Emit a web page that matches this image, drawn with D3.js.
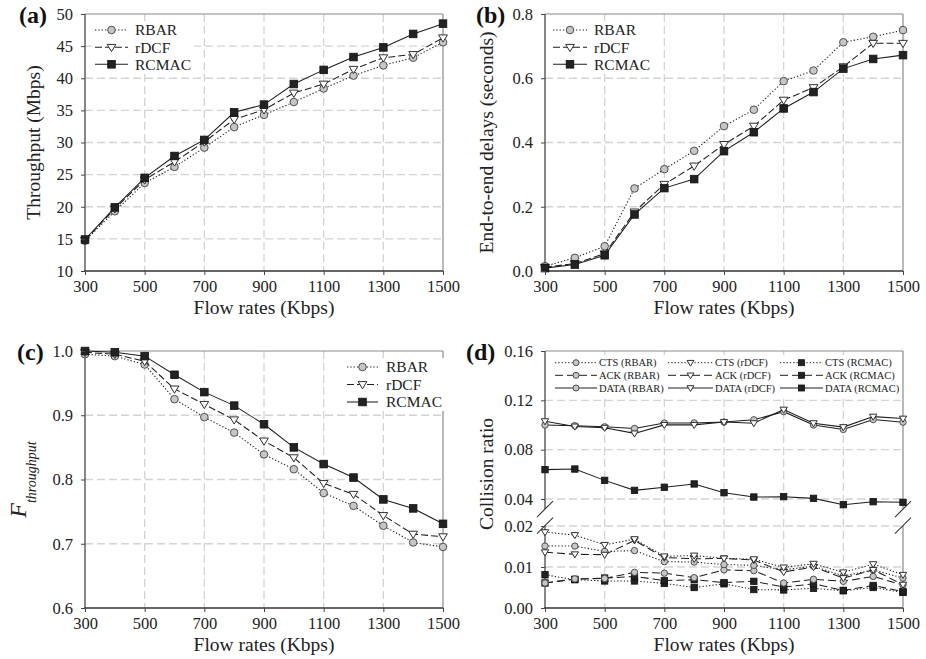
<!DOCTYPE html>
<html>
<head>
<meta charset="utf-8">
<script src="https://cdn.jsdelivr.net/npm/d3@7"></script>
<style>
  body { margin: 0; background: #fff; }
  svg, svg text { font-family: "Liberation Serif", "Times New Roman", "DejaVu Serif", serif !important; }
</style>
</head>
<body>
<svg id="fig" width="926" height="659"></svg>
<script>
// ---- shared x values -------------------------------------------------------
const flowRates = [300, 400, 500, 600, 700, 800, 900, 1000, 1100, 1200, 1300, 1400, 1500];
const xTickValues = [300, 500, 700, 900, 1100, 1300, 1500];

// ---- (a) throughput, Mbps ----------------------------------------------------
const throughputRBAR  = [14.7, 19.3, 23.7, 26.2, 29.2, 32.4, 34.3, 36.3, 38.4, 40.4, 42.0, 43.2, 45.6];
const throughputRDCF  = [14.8, 19.7, 24.2, 27.0, 30.1, 33.6, 35.1, 37.7, 39.1, 41.4, 43.2, 43.7, 46.3];
const throughputRCMAC = [14.9, 19.9, 24.5, 27.9, 30.4, 34.7, 35.9, 39.1, 41.3, 43.3, 44.8, 46.9, 48.5];
const throughputTicks = [10, 15, 20, 25, 30, 35, 40, 45, 50];

// ---- (b) end-to-end delay, seconds -------------------------------------------
const delayRBAR  = [0.015, 0.041, 0.077, 0.257, 0.317, 0.374, 0.451, 0.502, 0.591, 0.624, 0.712, 0.729, 0.750];
const delayRDCF  = [0.012, 0.023, 0.054, 0.184, 0.270, 0.327, 0.394, 0.451, 0.532, 0.571, 0.636, 0.709, 0.709];
const delayRCMAC = [0.009, 0.020, 0.049, 0.176, 0.258, 0.286, 0.373, 0.432, 0.506, 0.557, 0.630, 0.660, 0.672];
const delayTicks = [0, 0.2, 0.4, 0.6, 0.8];

// ---- (c) throughput fairness ---------------------------------------------------
const fairRBAR  = [0.995, 0.992, 0.979, 0.925, 0.897, 0.873, 0.839, 0.816, 0.779, 0.759, 0.728, 0.702, 0.695];
const fairRDCF  = [0.998, 0.995, 0.984, 0.941, 0.917, 0.893, 0.860, 0.834, 0.794, 0.777, 0.744, 0.715, 0.711];
const fairRCMAC = [1.000, 0.998, 0.992, 0.963, 0.936, 0.915, 0.886, 0.850, 0.824, 0.803, 0.769, 0.755, 0.731];
const fairTicks = [0.6, 0.7, 0.8, 0.9, 1.0];

// ---- (d) collision ratio per frame type ----------------------------------------
const ctsRBAR   = [0.0151, 0.0151, 0.0138, 0.0140, 0.0113, 0.0112, 0.0106, 0.0104, 0.0093, 0.0102, 0.0078, 0.0093, 0.0073];
const ackRBAR   = [0.0061, 0.0071, 0.0072, 0.0087, 0.0085, 0.0074, 0.0093, 0.0091, 0.0061, 0.0070, 0.0065, 0.0077, 0.0056];
const dataRBAR  = [0.1000, 0.0994, 0.0985, 0.0972, 0.1016, 0.1017, 0.1024, 0.1042, 0.1108, 0.1000, 0.0964, 0.1044, 0.1023];
const ctsRDCF   = [0.0185, 0.0178, 0.0154, 0.0168, 0.0126, 0.0128, 0.0121, 0.0119, 0.0099, 0.0108, 0.0087, 0.0107, 0.0081];
const ackRDCF   = [0.0136, 0.0131, 0.0130, 0.0165, 0.0123, 0.0120, 0.0121, 0.0117, 0.0088, 0.0100, 0.0073, 0.0093, 0.0057];
const dataRDCF  = [0.1031, 0.0988, 0.0978, 0.0932, 0.1001, 0.1001, 0.1024, 0.1015, 0.1125, 0.1015, 0.0983, 0.1068, 0.1052];
const ctsRCMAC  = [0.0081, 0.0069, 0.0066, 0.0066, 0.0060, 0.0050, 0.0059, 0.0045, 0.0044, 0.0048, 0.0042, 0.0050, 0.0038];
const ackRCMAC  = [0.0061, 0.0070, 0.0073, 0.0077, 0.0067, 0.0069, 0.0062, 0.0065, 0.0051, 0.0059, 0.0043, 0.0055, 0.0040];
const dataRCMAC = [0.0638, 0.0643, 0.0551, 0.0470, 0.0495, 0.0522, 0.0451, 0.0416, 0.0419, 0.0405, 0.0354, 0.0378, 0.0373];
const collisionUpperTicks = [0.04, 0.08, 0.12, 0.16];
const collisionLowerTicks = [0, 0.01, 0.02];

// ---- styling ------------------------------------------------------------------
const SERIF = '"Liberation Serif", "Times New Roman", "DejaVu Serif", serif';
const INK = "#1e1e1e";
const GRID = "#d4d4d4";
const markerStyle = {
  RBAR:  { shape: "circle",   fill: "#c6c6c6", stroke: "#505050" },
  rDCF:  { shape: "triangle", fill: "#ffffff", stroke: "#303030" },
  RCMAC: { shape: "square",   fill: "#222222", stroke: "#111111" }
};
const dashStyle = { dotted: "1.3,2", dashed: "7,3", longdash: "8,4", solid: null };

const svg = d3.select("#fig").style("font-family", SERIF);

function drawMarker(g, proto, cx, cy, size) {
  const st = markerStyle[proto];
  if (st.shape === "circle") {
    g.append("circle").attr("cx", cx).attr("cy", cy).attr("r", size / 2)
      .attr("fill", st.fill).attr("stroke", st.stroke).attr("stroke-width", 1);
  } else if (st.shape === "square") {
    g.append("rect").attr("x", cx - size / 2).attr("y", cy - size / 2)
      .attr("width", size).attr("height", size)
      .attr("fill", st.fill).attr("stroke", st.stroke).attr("stroke-width", 0.8);
  } else {
    const w = size * 1.15, h = size * 0.95;
    g.append("path")
      .attr("d", `M${cx - w / 2},${cy - h * 0.4}L${cx + w / 2},${cy - h * 0.4}L${cx},${cy + h * 0.6}Z`)
      .attr("fill", st.fill).attr("stroke", st.stroke).attr("stroke-width", 1);
  }
}

function drawSeries(g, x, y, values, proto, dash, markerSize) {
  const pts = flowRates.map((f, i) => [x(f), y(values[i])]);
  g.append("path")
    .attr("d", d3.line()(pts))
    .attr("fill", "none").attr("stroke", INK).attr("stroke-width", 1.05)
    .attr("stroke-dasharray", dashStyle[dash]);
  pts.forEach(p => drawMarker(g, proto, p[0], p[1], markerSize));
}

function styleAxis(ax) {
  ax.attr("font-family", null).style("font-family", SERIF);
  ax.select(".domain").remove();
  ax.selectAll(".tick line").attr("stroke", "#444");
  ax.selectAll(".tick text").attr("font-size", 16.5).attr("fill", "#222").style("font-family", SERIF);
}

function xAxis(g, x, box) {
  const ax = g.append("g").attr("transform", `translate(0,${box.bottom})`)
    .call(d3.axisBottom(x).tickValues(xTickValues).tickSize(4).tickSizeOuter(0)
      .tickPadding(5).tickFormat(d3.format("d")));
  styleAxis(ax);
  g.append("text").attr("x", (box.left + box.right) / 2).attr("y", box.bottom + 43)
    .attr("text-anchor", "middle").attr("font-size", 19.5).attr("fill", "#222")
    .style("font-family", SERIF).text("Flow rates (Kbps)");
}

function yAxis(g, y, ticks, fmt, box) {
  const ax = g.append("g").attr("transform", `translate(${box.left},0)`)
    .call(d3.axisLeft(y).tickValues(ticks).tickSize(4).tickSizeOuter(0)
      .tickPadding(8).tickFormat(d3.format(fmt)));
  styleAxis(ax);
}

function yTitle(g, text, tx, ty) {
  g.append("text").attr("transform", `translate(${tx},${ty}) rotate(-90)`)
    .attr("text-anchor", "middle").attr("font-size", 19.5).attr("fill", "#222")
    .style("font-family", SERIF).text(text);
}

function grid(g, x, yVals, box, yScale) {
  const gg = g.append("g").attr("stroke", GRID).attr("stroke-width", 1.3)
    .attr("stroke-dasharray", "8,4");
  xTickValues.slice(1, -1).forEach(v => {
    gg.append("line").attr("x1", x(v)).attr("x2", x(v)).attr("y1", box.top).attr("y2", box.bottom);
  });
  yVals.forEach(v => {
    gg.append("line").attr("x1", box.left).attr("x2", box.right)
      .attr("y1", yScale(v)).attr("y2", yScale(v));
  });
}

function frame(g, box) {
  g.append("line").attr("x1", box.left).attr("x2", box.right).attr("y1", box.top).attr("y2", box.top)
    .attr("stroke", "#8a8a8a").attr("stroke-width", 1.2);
  g.append("line").attr("x1", box.right).attr("x2", box.right).attr("y1", box.top).attr("y2", box.bottom)
    .attr("stroke", "#8a8a8a").attr("stroke-width", 1.2);
  g.append("line").attr("x1", box.left).attr("x2", box.left).attr("y1", box.top).attr("y2", box.bottom)
    .attr("stroke", "#555").attr("stroke-width", 1.4);
  g.append("line").attr("x1", box.left - 0.7).attr("x2", box.right).attr("y1", box.bottom).attr("y2", box.bottom)
    .attr("stroke", "#333").attr("stroke-width", 1.4);
}

function panelLabel(g, text, px, py) {
  g.append("text").attr("x", px).attr("y", py).attr("font-size", 24).attr("font-weight", "bold")
    .attr("fill", "#111").style("font-family", SERIF).text(text);
}

function legend3(g, entries, lineX0, lineX1, textX, rowYs, fontSize, markerSize) {
  g.append("rect").attr("x", lineX0 - 3).attr("y", rowYs[0] - 9)
    .attr("width", textX - lineX0 + 62).attr("height", rowYs[rowYs.length - 1] - rowYs[0] + 18)
    .attr("fill", "#fff");
  entries.forEach((e, i) => {
    const yy = rowYs[i];
    g.append("line").attr("x1", lineX0).attr("x2", lineX1).attr("y1", yy).attr("y2", yy)
      .attr("stroke", INK).attr("stroke-width", 1.05).attr("stroke-dasharray", dashStyle[e.dash]);
    drawMarker(g, e.proto, (lineX0 + lineX1) / 2, yy, markerSize);
    g.append("text").attr("x", textX).attr("y", yy).attr("dy", "0.35em")
      .attr("font-size", fontSize).attr("fill", "#222").style("font-family", SERIF).text(e.label);
  });
}

const protoEntries = [
  { label: "RBAR", proto: "RBAR", dash: "dotted" },
  { label: "rDCF", proto: "rDCF", dash: "dashed" },
  { label: "RCMAC", proto: "RCMAC", dash: "solid" }
];

// ======================= (a) throughput =======================
{
  const box = { left: 85, top: 14, right: 443, bottom: 271 };
  const g = svg.append("g");
  const x = d3.scaleLinear().domain([300, 1500]).range([box.left, box.right]);
  const y = d3.scaleLinear().domain([10, 50]).range([box.bottom, box.top]);
  grid(g, x, throughputTicks.slice(1, -1), box, y);
  frame(g, box);
  drawSeries(g, x, y, throughputRBAR, "RBAR", "dotted", 7.6);
  drawSeries(g, x, y, throughputRDCF, "rDCF", "dashed", 7.6);
  drawSeries(g, x, y, throughputRCMAC, "RCMAC", "solid", 7.6);
  legend3(g, protoEntries, 95, 128, 135, [30, 47.3, 64.3], 15.5, 7.6);
  xAxis(g, x, box);
  yAxis(g, y, throughputTicks, "d", box);
  yTitle(g, "Throughput (Mbps)", 39.5, (box.top + box.bottom) / 2);
  panelLabel(g, "(a)", 19, 23);
}

// ======================= (b) delay =======================
{
  const box = { left: 545, top: 14, right: 903, bottom: 271 };
  const g = svg.append("g");
  const x = d3.scaleLinear().domain([300, 1500]).range([box.left, box.right]);
  const y = d3.scaleLinear().domain([0, 0.8]).range([box.bottom, box.top]);
  grid(g, x, delayTicks.slice(1, -1), box, y);
  frame(g, box);
  drawSeries(g, x, y, delayRBAR, "RBAR", "dotted", 7.6);
  drawSeries(g, x, y, delayRDCF, "rDCF", "dashed", 7.6);
  drawSeries(g, x, y, delayRCMAC, "RCMAC", "solid", 7.6);
  legend3(g, protoEntries, 553, 587, 594, [30, 47.3, 64.3], 15.5, 7.6);
  xAxis(g, x, box);
  yAxis(g, y, delayTicks, ".1f", box);
  yTitle(g, "End-to-end delays (seconds)", 493, (box.top + box.bottom) / 2);
  panelLabel(g, "(b)", 476, 23);
}

// ======================= (c) fairness =======================
{
  const box = { left: 85, top: 351, right: 443, bottom: 608 };
  const g = svg.append("g");
  const x = d3.scaleLinear().domain([300, 1500]).range([box.left, box.right]);
  const y = d3.scaleLinear().domain([0.6, 1.0]).range([box.bottom, box.top]);
  grid(g, x, fairTicks.slice(1, -1), box, y);
  frame(g, box);
  drawSeries(g, x, y, fairRBAR, "RBAR", "dotted", 7.6);
  drawSeries(g, x, y, fairRDCF, "rDCF", "dashed", 7.6);
  drawSeries(g, x, y, fairRCMAC, "RCMAC", "solid", 7.6);
  legend3(g, protoEntries, 347, 378, 386, [367, 384.5, 402], 15.5, 7.6);
  xAxis(g, x, box);
  yAxis(g, y, fairTicks, ".1f", box);
  const t = g.append("text")
    .attr("transform", `translate(26,${(box.top + box.bottom) / 2}) rotate(-90)`)
    .attr("text-anchor", "middle").attr("fill", "#222").attr("font-style", "italic")
    .style("font-family", SERIF);
  t.append("tspan").attr("font-size", 24).text("F");
  t.append("tspan").attr("font-size", 14).attr("dy", 10).text("throughput");
  panelLabel(g, "(c)", 17, 360);
}

// ======================= (d) collision ratio (broken axis) =======================
{
  const box = { left: 545, top: 351, right: 903, bottom: 608 };
  const g = svg.append("g");
  const x = d3.scaleLinear().domain([300, 1500]).range([box.left, box.right]);
  const yUp = d3.scaleLinear().domain([0.04, 0.16]).range([499, box.top]);
  const yLow = d3.scaleLinear().domain([0, 0.02]).range([box.bottom, 526]);
  const yAny = v => (v >= 0.03 ? yUp(v) : yLow(v));
  const breakTop = yUp(0.0318);
  const breakBottom = yLow(0.0201);

  // grid
  const gg = g.append("g").attr("stroke", GRID).attr("stroke-width", 1.3).attr("stroke-dasharray", "8,4");
  xTickValues.slice(1, -1).forEach(v => {
    gg.append("line").attr("x1", x(v)).attr("x2", x(v)).attr("y1", box.top).attr("y2", box.bottom);
  });
  collisionUpperTicks.slice(0, -1).concat(collisionLowerTicks.slice(1)).forEach(v => {
    gg.append("line").attr("x1", box.left).attr("x2", box.right).attr("y1", yAny(v)).attr("y2", yAny(v));
  });

  // frame with broken left/right sides
  g.append("line").attr("x1", box.left).attr("x2", box.right).attr("y1", box.top).attr("y2", box.top)
    .attr("stroke", "#8a8a8a").attr("stroke-width", 1.2);
  [[box.top, breakTop], [breakBottom, box.bottom]].forEach(([a, b]) => {
    g.append("line").attr("x1", box.right).attr("x2", box.right).attr("y1", a).attr("y2", b)
      .attr("stroke", "#8a8a8a").attr("stroke-width", 1.2);
    g.append("line").attr("x1", box.left).attr("x2", box.left).attr("y1", a).attr("y2", b)
      .attr("stroke", "#555").attr("stroke-width", 1.4);
  });
  g.append("line").attr("x1", box.left - 0.7).attr("x2", box.right).attr("y1", box.bottom).attr("y2", box.bottom)
    .attr("stroke", "#333").attr("stroke-width", 1.4);
  // break marks
  [box.left, box.right].forEach(bx => {
    [breakTop, breakBottom].forEach(by => {
      g.append("line").attr("x1", bx - 8).attr("y1", by + 8).attr("x2", bx + 8).attr("y2", by - 8)
        .attr("stroke", "#333").attr("stroke-width", 1.1);
    });
  });

  // series: CTS and ACK on the lower scale, DATA on the upper scale
  const ms = 6.4;
  drawSeries(g, x, yLow, ctsRCMAC, "RCMAC", "dotted", ms);
  drawSeries(g, x, yLow, ackRCMAC, "RCMAC", "longdash", ms);
  drawSeries(g, x, yLow, ackRBAR, "RBAR", "longdash", ms);
  drawSeries(g, x, yLow, ctsRBAR, "RBAR", "dotted", ms);
  drawSeries(g, x, yLow, ackRDCF, "rDCF", "longdash", ms);
  drawSeries(g, x, yLow, ctsRDCF, "rDCF", "dotted", ms);
  drawSeries(g, x, yUp, dataRCMAC, "RCMAC", "solid", ms);
  drawSeries(g, x, yUp, dataRBAR, "RBAR", "solid", ms);
  drawSeries(g, x, yUp, dataRDCF, "rDCF", "solid", ms);

  // 3 x 3 legend
  const cols = [
    { proto: "RBAR", x0: 555, x1: 597, tx: 599 },
    { proto: "rDCF", x0: 668, x1: 713, tx: 715 },
    { proto: "RCMAC", x0: 780, x1: 823, tx: 825 }
  ];
  const rows = [
    { kind: "CTS", dash: "dotted", y: 362.7 },
    { kind: "ACK", dash: "longdash", y: 375.3 },
    { kind: "DATA", dash: "solid", y: 388 }
  ];
  g.append("rect").attr("x", 552).attr("y", 355).attr("width", 348).attr("height", 40).attr("fill", "#fff");
  cols.forEach(c => rows.forEach(r => {
    g.append("line").attr("x1", c.x0).attr("x2", c.x1).attr("y1", r.y).attr("y2", r.y)
      .attr("stroke", INK).attr("stroke-width", 1).attr("stroke-dasharray", dashStyle[r.dash]);
    drawMarker(g, c.proto, (c.x0 + c.x1) / 2, r.y, 6);
    g.append("text").attr("x", c.tx).attr("y", r.y).attr("dy", "0.35em")
      .attr("font-size", 10.5).attr("fill", "#222").style("font-family", SERIF)
      .text(`${r.kind} (${c.proto})`);
  }));

  // axes
  xAxis(g, x, box);
  yAxis(g, yUp, collisionUpperTicks, ".2f", box);
  yAxis(g, yLow, collisionLowerTicks, ".2f", box);
  yTitle(g, "Collision ratio", 493, 474);
  panelLabel(g, "(d)", 466, 360);
}
</script>
</body>
</html>
